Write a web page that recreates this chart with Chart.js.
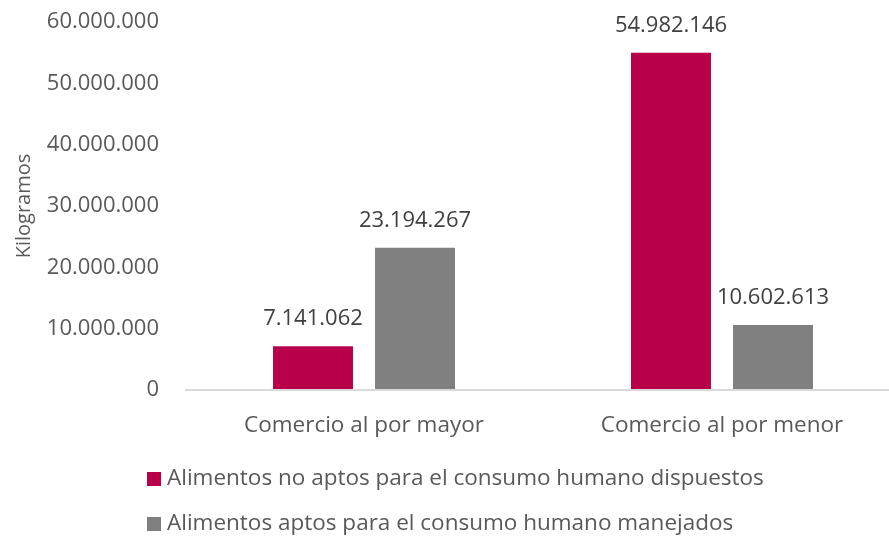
<!DOCTYPE html>
<html>
<head>
<meta charset="utf-8">
<script src="https://cdn.jsdelivr.net/npm/chart.js@4.4.0/dist/chart.umd.min.js"></script>
<style>
  html, body { margin: 0; padding: 0; background: #fff; overflow: hidden; }
  /* plot runs slightly past the right edge, as in the original */
  #wrap { width: 901px; height: 540px; position: relative; }
</style>
</head>
<body>
<div id="wrap"><canvas id="wasteChart"></canvas></div>
<script>
// Chart data
const categories = ['Comercio al por mayor', 'Comercio al por menor'];
const seriesNames = [
    'Alimentos no aptos para el consumo humano dispuestos',
    'Alimentos aptos para el consumo humano manejados'
];
const noAptos = [7141062, 54982146];
const aptos = [23194267, 10602613];
const yTicks = [0, 10000000, 20000000, 30000000, 40000000, 50000000, 60000000];

const textColor = '#595959';
const fontFamily = '"Open Sans", "Noto Sans", sans-serif';

// Format numbers with dots as thousand separators
function formatNum(v) {
    return String(Math.round(v)).replace(/\B(?=(\d{3})+(?!\d))/g, '.');
}

// Value labels on top of each bar
const barLabels = {
    id: 'barLabels',
    afterDatasetsDraw(chart) {
        const ctx = chart.ctx;
        ctx.save();
        ctx.font = '22px ' + fontFamily;
        ctx.fillStyle = '#404040';
        ctx.textAlign = 'center';
        ctx.textBaseline = 'middle';
        chart.data.datasets.forEach((ds, i) => {
            chart.getDatasetMeta(i).data.forEach((bar, j) => {
                ctx.fillText(formatNum(ds.data[j]), bar.x, bar.y - 27);
            });
        });
        ctx.restore();
    }
};

// Legend drawn as a left-aligned vertical list
const listLegend = {
    id: 'listLegend',
    afterDraw(chart) {
        const ctx = chart.ctx;
        ctx.save();
        ctx.font = '22.5px ' + fontFamily;
        ctx.textBaseline = 'middle';
        ctx.textAlign = 'left';
        chart.data.datasets.forEach((ds, i) => {
            const y = 479 + i * 45;
            ctx.fillStyle = ds.backgroundColor;
            ctx.fillRect(147, y - 7, 14, 14);
            ctx.fillStyle = textColor;
            ctx.fillText(ds.label, 167, y);
        });
        ctx.restore();
    }
};

const ctx = document.getElementById('wasteChart').getContext('2d');
new Chart(ctx, {
    type: 'bar',
    data: {
        labels: categories,
        datasets: [{
            label: seriesNames[0],
            data: noAptos,
            backgroundColor: '#B8004B',
            categoryPercentage: 0.57,
            barPercentage: 0.784
        }, {
            label: seriesNames[1],
            data: aptos,
            backgroundColor: '#808080',
            categoryPercentage: 0.57,
            barPercentage: 0.784
        }]
    },
    options: {
        responsive: true,
        maintainAspectRatio: false,
        animation: false,
        layout: {
            padding: { top: 22, left: 0, right: 0, bottom: 79 }
        },
        plugins: {
            legend: { display: false },
            tooltip: { enabled: false }
        },
        scales: {
            x: {
                afterFit: function(axis) {
                    axis.paddingLeft = 0;
                    axis.paddingRight = 0;
                },
                grid: { display: false, drawTicks: false },
                border: { display: false },
                ticks: {
                    color: textColor,
                    padding: 22,
                    font: { family: fontFamily, size: 22.5 }
                }
            },
            y: {
                min: 0,
                max: 60000000,
                afterBuildTicks: function(axis) {
                    axis.ticks = yTicks.map(v => ({ value: v }));
                },
                afterFit: function(axis) {
                    axis.width = 185;
                    axis.paddingTop = 0;
                    axis.paddingBottom = 0;
                },
                border: { display: false },
                grid: {
                    drawTicks: false,
                    lineWidth: 2,
                    color: function(c) {
                        return c.tick && c.tick.value === 0 ? '#d9d9d9' : 'rgba(0,0,0,0)';
                    }
                },
                ticks: {
                    color: textColor,
                    padding: 26,
                    font: { family: fontFamily, size: 22 },
                    callback: function(value) {
                        return formatNum(value);
                    }
                },
                title: {
                    display: true,
                    text: 'Kilogramos',
                    color: textColor,
                    padding: { top: 12, bottom: 0 },
                    font: { family: fontFamily, size: 20 }
                }
            }
        }
    },
    plugins: [barLabels, listLegend]
});
</script>
</body>
</html>
